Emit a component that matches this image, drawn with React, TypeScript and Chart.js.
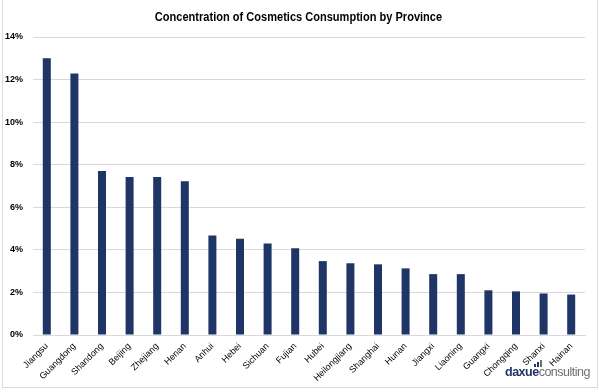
import React, { useEffect, useRef } from "react";
import { Chart, registerables } from "chart.js";

Chart.register(...registerables);

const provinces = [
  "Jiangsu", "Guangdong", "Shandong", "Beijing", "Zhejiang", "Henan", "Anhui", "Hebei",
  "Sichuan", "Fujian", "Hubei", "Heilongjiang", "Shanghai", "Hunan", "Jiangxi", "Liaoning",
  "Guangxi", "Chongqing", "Shanxi", "Hainan",
];
const shares = [
  13.0, 12.28, 7.7, 7.42, 7.42, 7.22, 4.68, 4.52, 4.3, 4.07,
  3.47, 3.37, 3.32, 3.13, 2.86, 2.86, 2.1, 2.05, 1.95, 1.9,
];
const yTicks = [0, 2, 4, 6, 8, 10, 12, 14];
const title = "Concentration of Cosmetics Consumption by Province";

export default function App() {
  const ref = useRef<HTMLCanvasElement | null>(null);
  useEffect(() => {
    document.body.style.margin = "0";
    const ctx = ref.current!.getContext("2d")!;
    const chart = new Chart(ctx, {
      type: "bar",
      data: {
        labels: provinces,
        datasets: [
          {
            data: shares,
            backgroundColor: "#1f3566",
            barPercentage: 0.29,
            categoryPercentage: 1,
          },
        ],
      },
      options: {
        animation: false,
        responsive: false,
        layout: { padding: { left: 0, right: 14, top: 37, bottom: 0 } },
        plugins: {
          legend: { display: false },
          tooltip: { enabled: false },
          title: { display: false },
        },
        scales: {
          x: {
            grid: { display: false, drawTicks: false },
            border: { display: true, color: "#d9d9d9" },
            ticks: {
              color: "#000",
              font: { family: "'Liberation Sans', Arial", size: 9 },
              maxRotation: 45,
              minRotation: 45,
              autoSkip: false,
              padding: 6,
            },
            afterFit: (s: any) => {
              s.height = 57;
            },
          },
          y: {
            min: 0,
            max: 14,
            afterBuildTicks: (s: any) => {
              s.ticks = yTicks.map((v) => ({ value: v }));
            },
            grid: { color: "#d9d9d9", drawTicks: false },
            border: { display: false },
            ticks: {
              color: "#000",
              font: { family: "'Liberation Sans', Arial", size: 9, weight: "bold" },
              padding: 10,
              callback: (v: any) => `${v}%`,
            },
            afterFit: (s: any) => {
              s.width = 33;
            },
          },
        },
      },
    });
    return () => chart.destroy();
  }, []);

  return (
    <div style={{ position: "relative", width: 599, height: 392, background: "#fff", overflow: "hidden" }}>
      <canvas ref={ref} width={599} height={392} style={{ display: "block" }} />
      <div
        style={{
          position: "absolute",
          left: 0,
          top: 9,
          width: 597,
          textAlign: "center",
          fontFamily: "'Liberation Sans', Arial, sans-serif",
          fontWeight: "bold",
          fontSize: 13,
          lineHeight: "16px",
          color: "#000",
          whiteSpace: "nowrap",
          transform: "scaleX(0.85)",
        }}
      >
        {title}
      </div>
      <div
        style={{
          position: "absolute",
          left: 2,
          top: -1,
          width: 594,
          height: 388,
          borderLeft: "1px solid #dcdcdc",
          borderRight: "1px solid #dcdcdc",
          borderBottom: "1px solid #dcdcdc",
          pointerEvents: "none",
        }}
      />
      <div
        style={{
          position: "absolute",
          left: 505,
          top: 365,
          fontFamily: "'Liberation Sans', Arial, sans-serif",
          fontSize: 12.5,
          lineHeight: "15px",
          letterSpacing: "-0.5px",
          whiteSpace: "nowrap",
        }}
      >
        <span style={{ color: "#1f3566", fontWeight: "bold" }}>daxue</span>
        <span style={{ color: "#6f6f6f" }}>consulting</span>
      </div>
      <div style={{ position: "absolute", left: 534, top: 360, display: "flex", alignItems: "flex-end", gap: 1 }}>
        <div style={{ width: 2, height: 3, background: "#1f3566" }} />
        <div style={{ width: 2, height: 5, background: "#1f3566" }} />
        <div style={{ width: 2, height: 7, background: "#6f6f6f" }} />
      </div>
    </div>
  );
}
